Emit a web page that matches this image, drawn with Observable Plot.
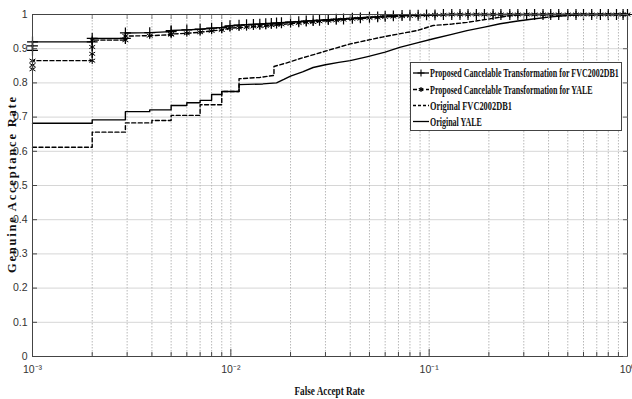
<!DOCTYPE html>
<html><head><meta charset="utf-8">
<script src="https://cdn.jsdelivr.net/npm/d3@7"></script>
<script src="https://cdn.jsdelivr.net/npm/@observablehq/plot@0.6"></script>
<style>body{margin:0;background:#fff;}</style>
</head><body><div id="chart"></div>
<script>
const seriesNames = [
  "Proposed Cancelable Transformation for FVC2002DB1",
  "Proposed Cancelable Transformation for YALE",
  "Original FVC2002DB1",
  "Original YALE"
];
const xMajorTicks = [0.001, 0.01, 0.1, 1];
const xMajorLabels = ["10\u207B\u00B3", "10\u207B\u00B2", "10\u207B\u00B9", "10\u2070"];
const xGridTicks = [0.001,0.002,0.003,0.004,0.005,0.006,0.007,0.008,0.009,
  0.01,0.02,0.03,0.04,0.05,0.06,0.07,0.08,0.09,
  0.1,0.2,0.3,0.4,0.5,0.6,0.7,0.8,0.9,1];
const yTicks = [0,0.1,0.2,0.3,0.4,0.5,0.6,0.7,0.8,0.9,1];
const yTickLabels = ["0","0.1","0.2","0.3","0.4","0.5","0.6","0.7","0.8","0.9","1"];

// [False Accept Rate, Genuine Acceptance Rate]
const proposedFvc = [[0.001,0.895],[0.001,0.908],[0.001,0.92],[0.002,0.92],[0.002,0.93],[0.00294,0.93],[0.00294,0.946],[0.0039,0.947],[0.005,0.95],[0.005,0.953],[0.006,0.955],[0.007,0.957],[0.008,0.96],[0.009,0.962],[0.0099,0.967],[0.011,0.969],[0.012,0.97],[0.013,0.971],[0.014,0.972],[0.015,0.973],[0.016,0.974],[0.017,0.975],[0.018,0.976],[0.02,0.978],[0.022,0.979],[0.024,0.981],[0.026,0.982],[0.028,0.983],[0.031,0.985],[0.034,0.986],[0.037,0.987],[0.041,0.989],[0.045,0.99],[0.05,0.992],[0.055,0.993],[0.06,0.995],[0.066,0.996],[0.073,0.997],[0.08,0.998],[0.088,0.998],[0.097,0.999],[0.107,0.999],[0.118,1],[0.13,1]];
const proposedYale = [[0.001,0.84],[0.001,0.852],[0.001,0.865],[0.002,0.865],[0.002,0.885],[0.002,0.905],[0.002,0.925],[0.00294,0.925],[0.00294,0.937],[0.0039,0.938],[0.005,0.941],[0.005,0.943],[0.006,0.945],[0.007,0.948],[0.008,0.952],[0.009,0.955],[0.0099,0.96],[0.011,0.962],[0.012,0.963],[0.013,0.965],[0.014,0.966],[0.015,0.967],[0.016,0.969],[0.017,0.97],[0.018,0.971],[0.02,0.973],[0.022,0.975],[0.024,0.977],[0.026,0.978],[0.028,0.98],[0.031,0.982],[0.034,0.983],[0.037,0.985],[0.041,0.987],[0.045,0.988],[0.05,0.99],[0.055,0.991],[0.06,0.993],[0.066,0.994],[0.073,0.995],[0.08,0.996],[0.088,0.997],[0.097,0.998],[0.107,0.999],[0.118,0.999],[0.13,1]];
const topFar = [0.143,0.157,0.173,0.19,0.21,0.23,0.255,0.28,0.31,0.34,0.375,0.41,0.45,0.5,0.55,0.6,0.66,0.73,0.8,0.88,0.95,1];
const originalFvc = [[0.001,0.612],[0.002,0.612],[0.002,0.656],[0.00294,0.656],[0.00294,0.683],[0.004,0.683],[0.004,0.69],[0.005,0.69],[0.005,0.705],[0.007,0.705],[0.007,0.736],[0.009,0.736],[0.009,0.775],[0.011,0.775],[0.011,0.812],[0.014,0.816],[0.0165,0.822],[0.0165,0.848],[0.019,0.858],[0.022,0.87],[0.027,0.885],[0.033,0.9],[0.04,0.914],[0.048,0.924],[0.058,0.934],[0.07,0.943],[0.087,0.953],[0.105,0.968],[0.13,0.972],[0.155,0.977],[0.2,0.987],[0.24,0.994],[0.28,0.999],[0.3,1],[1,1]];
const originalYale = [[0.001,0.682],[0.002,0.682],[0.002,0.692],[0.00294,0.692],[0.00294,0.716],[0.0039,0.716],[0.0039,0.721],[0.005,0.721],[0.005,0.734],[0.006,0.734],[0.006,0.742],[0.007,0.742],[0.007,0.749],[0.008,0.749],[0.008,0.766],[0.009,0.766],[0.009,0.775],[0.011,0.775],[0.011,0.795],[0.0145,0.797],[0.017,0.8],[0.0185,0.81],[0.02,0.82],[0.023,0.832],[0.026,0.845],[0.03,0.853],[0.035,0.86],[0.04,0.865],[0.049,0.877],[0.06,0.89],[0.071,0.904],[0.087,0.917],[0.105,0.929],[0.13,0.942],[0.155,0.953],[0.19,0.963],[0.228,0.973],[0.28,0.981],[0.334,0.987],[0.41,0.993],[0.5,0.997],[0.58,1],[1,1]];

const pFvc = proposedFvc.concat(topFar.map(f => [f, 1]));
const pYale = proposedYale.concat(topFar.map(f => [f, 1]));
const X = d => d[0], Y = d => d[1];
const minorTicks = xGridTicks.filter(v => !xMajorTicks.includes(v));

const plot = Plot.plot({
  width: 632, height: 399,
  marginTop: 14, marginBottom: 43, marginLeft: 32, marginRight: 5,
  x: {type: "log", domain: [0.001, 1]},
  y: {domain: [0, 1]},
  style: {fontFamily: "'Liberation Sans Narrow','Liberation Sans',sans-serif", fontSize: "10.5px", color: "#333", background: "#fff", overflow: "visible"},
  marks: [
    Plot.ruleY(yTicks.slice(1, -1), {stroke: "#d6d6d6", strokeWidth: 1}),
    Plot.ruleX(xGridTicks.slice(1, -1), {stroke: "#b8b8b8", strokeDasharray: "1.5,1.5", strokeWidth: 1}),
    Plot.line(originalYale, {x: X, y: Y, stroke: "#000", strokeWidth: 1.4}),
    Plot.line(originalFvc, {x: X, y: Y, stroke: "#000", strokeWidth: 1.4, strokeDasharray: "4,2.5"}),
    Plot.line(pYale, {x: X, y: Y, stroke: "#000", strokeWidth: 1.4, strokeDasharray: "4,2.5"}),
    Plot.line(pFvc, {x: X, y: Y, stroke: "#000", strokeWidth: 1.4}),
    Plot.dot(pYale, {x: X, y: Y, symbol: "asterisk", r: 3.2, stroke: "#000", strokeWidth: 1}),
    Plot.dot(pFvc, {x: X, y: Y, symbol: "plus", r: 3.6, stroke: "#000", strokeWidth: 1.2}),
    Plot.frame({stroke: "#444"}),
    Plot.axisX(xMajorTicks, {anchor: "bottom", tickSize: 0, tickPadding: 9, tickFormat: d => xMajorLabels[xMajorTicks.indexOf(d)], label: null}),
    Plot.axisX(minorTicks, {anchor: "bottom", tickSize: -4, fill: "none", stroke: "#444", label: null}),
    Plot.axisX(xMajorTicks, {anchor: "bottom", tickSize: -7, fill: "none", stroke: "#444", label: null}),
    Plot.axisX(minorTicks, {anchor: "top", tickSize: -4, fill: "none", stroke: "#888", label: null}),
    Plot.axisY(yTicks, {anchor: "left", tickSize: 0, tickPadding: 5, tickFormat: d => yTickLabels[yTicks.indexOf(d)], label: null}),
    Plot.axisY(yTicks, {anchor: "left", tickSize: -5, fill: "none", stroke: "#444", label: null}),
    Plot.axisY(yTicks, {anchor: "right", tickSize: -5, fill: "none", stroke: "#666", label: null})
  ]
});
document.getElementById("chart").appendChild(plot);

const svg = d3.select(plot);
const serif = "'Liberation Serif','Times New Roman',serif";

// fit a text horizontally to a given width (squeezes the glyphs like the reference)
function fitText(sel, x, y, width, anchor) {
  const w = sel.node().getComputedTextLength() || width;
  const sx = width / w;
  const x0 = anchor === "middle" ? x - width / 2 : x;
  sel.attr("text-anchor", "start").attr("transform", `translate(${x0},${y}) scale(${sx},1)`);
}

const xt = svg.append("text")
  .attr("font-family", serif).attr("font-weight", "bold").attr("font-size", 12.5)
  .attr("fill", "#111").text("False Accept Rate");
fitText(xt, 329.5, 395, 70, "middle");

svg.append("text")
  .attr("transform", "translate(16,185) rotate(-90)")
  .attr("text-anchor", "middle")
  .attr("font-family", serif).attr("font-weight", "bold").attr("font-size", 12.5)
  .attr("textLength", 176).attr("lengthAdjust", "spacing")
  .attr("fill", "#111")
  .text("Genuine Acceptance Rate");

// legend
const lg = svg.append("g");
lg.append("rect").attr("x", 410.5).attr("y", 62.5).attr("width", 211).attr("height", 68)
  .attr("fill", "#fff").attr("stroke", "#444").attr("stroke-width", 1);
const rowY = [73, 89.5, 105.5, 121.5];
const rowLen = [189, 163, 82, 52];
const rowDash = [null, "4,2.5", "3,2", null];
const rowSym = [d3.symbolPlus, d3.symbolAsterisk, null, null];
seriesNames.forEach((name, i) => {
  const y = rowY[i];
  const l = lg.append("line").attr("x1", 413).attr("x2", 429).attr("y1", y).attr("y2", y)
    .attr("stroke", "#000").attr("stroke-width", 1.3);
  if (rowDash[i]) l.attr("stroke-dasharray", rowDash[i]);
  if (rowSym[i]) lg.append("path").attr("d", d3.symbol(rowSym[i], 18)())
    .attr("transform", `translate(421,${y})`).attr("fill", "none").attr("stroke", "#000").attr("stroke-width", 1.1);
  const t = lg.append("text")
    .attr("font-family", serif).attr("font-weight", "bold").attr("font-size", 11.5)
    .attr("fill", "#111").text(name);
  fitText(t, 430, y + 4, rowLen[i], "start");
});
</script>
</body></html>
